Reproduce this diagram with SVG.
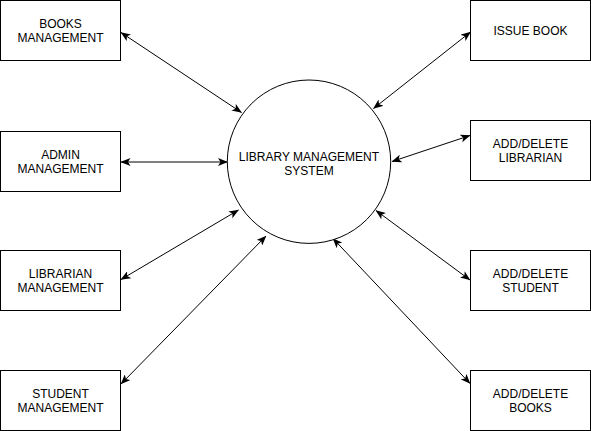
<svg xmlns="http://www.w3.org/2000/svg" width="591" height="431" viewBox="0 0 591 431">
<defs>
<marker id="arr" viewBox="0 0 10 8" refX="9.5" refY="4" markerWidth="10" markerHeight="8" markerUnits="userSpaceOnUse" orient="auto-start-reverse">
<path d="M0,0 L10,4 L0,8 L2.5,4 Z" fill="#000"/>
</marker>
</defs>
<style>
.box{fill:#fff;stroke:#000;stroke-width:1}
.t{font-family:"Liberation Sans",Arial,sans-serif;font-size:12px;fill:#000;text-anchor:middle}
.c{fill:none;stroke:#000;stroke-width:1;marker-start:url(#arr);marker-end:url(#arr)}
</style>
<rect width="591" height="431" fill="#fff"/>
<g id="connectors">
<line class="c" x1="121" y1="32.5" x2="241.5" y2="112.5"/>
<line class="c" x1="121" y1="162" x2="227.5" y2="162"/>
<line class="c" x1="121" y1="279.5" x2="238.5" y2="210"/>
<line class="c" x1="121" y1="384" x2="266" y2="236"/>
<line class="c" x1="470.5" y1="32" x2="373.5" y2="108.5"/>
<line class="c" x1="470" y1="135.5" x2="392" y2="161.5"/>
<line class="c" x1="470" y1="280" x2="376" y2="210.5"/>
<line class="c" x1="470" y1="383.5" x2="333" y2="238.5"/>
</g>
<g id="center">
<circle cx="309" cy="161.7" r="81.7" fill="#fff" stroke="#000" stroke-width="1"/>
<text class="t" x="309" y="160.5">LIBRARY MANAGEMENT</text>
<text class="t" x="309" y="174.5">SYSTEM</text>
</g>
<g id="books-management">
<rect class="box" x="0.5" y="0.5" width="120" height="60"/>
<text class="t" x="60.5" y="28">BOOKS</text>
<text class="t" x="60.5" y="42">MANAGEMENT</text>
</g>
<g id="admin-management">
<rect class="box" x="0.5" y="131.5" width="120" height="60"/>
<text class="t" x="60.5" y="159">ADMIN</text>
<text class="t" x="60.5" y="173">MANAGEMENT</text>
</g>
<g id="librarian-management">
<rect class="box" x="0.5" y="250.5" width="120" height="60"/>
<text class="t" x="60.5" y="278">LIBRARIAN</text>
<text class="t" x="60.5" y="292">MANAGEMENT</text>
</g>
<g id="student-management">
<rect class="box" x="0.5" y="370.5" width="120" height="60"/>
<text class="t" x="60.5" y="398">STUDENT</text>
<text class="t" x="60.5" y="412">MANAGEMENT</text>
</g>
<g id="issue-book">
<rect class="box" x="470.5" y="0.5" width="120" height="60"/>
<text class="t" x="530.5" y="35">ISSUE BOOK</text>
</g>
<g id="add-delete-librarian">
<rect class="box" x="470.5" y="120.5" width="120" height="60"/>
<text class="t" x="530.5" y="148">ADD/DELETE</text>
<text class="t" x="530.5" y="162">LIBRARIAN</text>
</g>
<g id="add-delete-student">
<rect class="box" x="470.5" y="250.5" width="120" height="60"/>
<text class="t" x="530.5" y="278">ADD/DELETE</text>
<text class="t" x="530.5" y="292">STUDENT</text>
</g>
<g id="add-delete-books">
<rect class="box" x="470.5" y="370.5" width="120" height="60"/>
<text class="t" x="530.5" y="398">ADD/DELETE</text>
<text class="t" x="530.5" y="412">BOOKS</text>
</g>
</svg>
